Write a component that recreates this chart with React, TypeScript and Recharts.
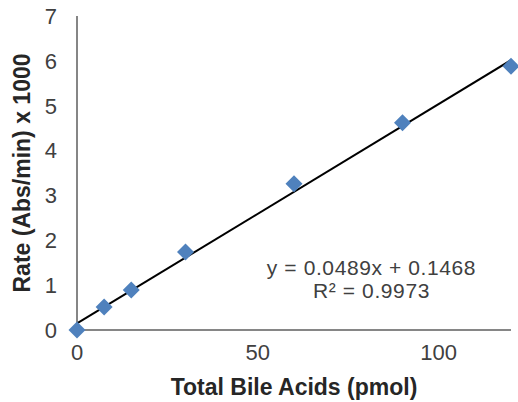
import { ComposedChart, Scatter, XAxis, YAxis } from "recharts";

// measured points (pmol, rate x1000)
const bileAcids = [0, 7.5, 15, 30, 60, 90, 120];
const rates = [0, 0.51, 0.89, 1.74, 3.26, 4.62, 5.88];
// linear trendline endpoints, as drawn
const trendX = [0, 120];
const trendY = [0.147, 6.015];
const xTicks = [0, 50, 100];
const yTicks = [0, 1, 2, 3, 4, 5, 6, 7];

const equation = "y = 0.0489x + 0.1468";
const rSquared = "R² = 0.9973";

const points = bileAcids.map((x, i) => ({ x, y: rates[i] }));
const trend = trendX.map((x, i) => ({ x, y: trendY[i] }));

const FONT = '"Liberation Sans", Arial, sans-serif';
const AXIS = "#868686";

function Diamond(props: any) {
  const { cx, cy } = props;
  const r = 8.5;
  return (
    <polygon
      points={`${cx},${cy - r} ${cx + r},${cy} ${cx},${cy + r} ${cx - r},${cy}`}
      fill="#4F81BD"
    />
  );
}

export default function App() {
  return (
    <div style={{ position: "absolute", left: 0, top: 0, width: 518, height: 402, background: "#fff" }}>
      <ComposedChart
        width={518}
        height={402}
        margin={{ top: 16, right: 7, bottom: 42, left: 0 }}
        style={{ fontFamily: FONT }}
      >
        <XAxis
          type="number"
          dataKey="x"
          domain={[0, 120]}
          ticks={xTicks}
          axisLine={{ stroke: AXIS, strokeWidth: 2 }}
          tickLine={false}
          tick={{ fill: "#404040", fontSize: 22 }}
          tickMargin={8}
          label={({ viewBox }: any) => (
            <text
              x={viewBox.x + viewBox.width / 2}
              y={395}
              textAnchor="middle"
              fontWeight="bold"
              fontSize={23}
              fill="#262626"
            >
              Total Bile Acids (pmol)
            </text>
          )}
        />
        <YAxis
          type="number"
          dataKey="y"
          domain={[0, 7]}
          ticks={yTicks}
          width={77}
          axisLine={{ stroke: AXIS, strokeWidth: 2 }}
          tickLine={false}
          tick={{ fill: "#404040", fontSize: 22 }}
          tickMargin={14}
          label={({ viewBox }: any) => {
            const cy = viewBox.y + viewBox.height / 2;
            return (
              <text
                x={22}
                y={cy}
                dy={8}
                transform={`rotate(-90 22 ${cy})`}
                textAnchor="middle"
                fontWeight="bold"
                fontSize={23}
                fill="#262626"
              >
                Rate (Abs/min) x 1000
              </text>
            );
          }}
        />
        <Scatter
          data={trend}
          line={{ stroke: "#000", strokeWidth: 2 }}
          shape={() => null}
          isAnimationActive={false}
        />
        <Scatter data={points} shape={Diamond} isAnimationActive={false} />
      </ComposedChart>
      <div
        style={{
          position: "absolute",
          left: 259,
          top: 256,
          width: 225,
          textAlign: "center",
          fontFamily: FONT,
          fontSize: 21,
          letterSpacing: 0.6,
          lineHeight: "23px",
          color: "#404040",
        }}
      >
        <div>{equation}</div>
        <div>{rSquared}</div>
      </div>
    </div>
  );
}
